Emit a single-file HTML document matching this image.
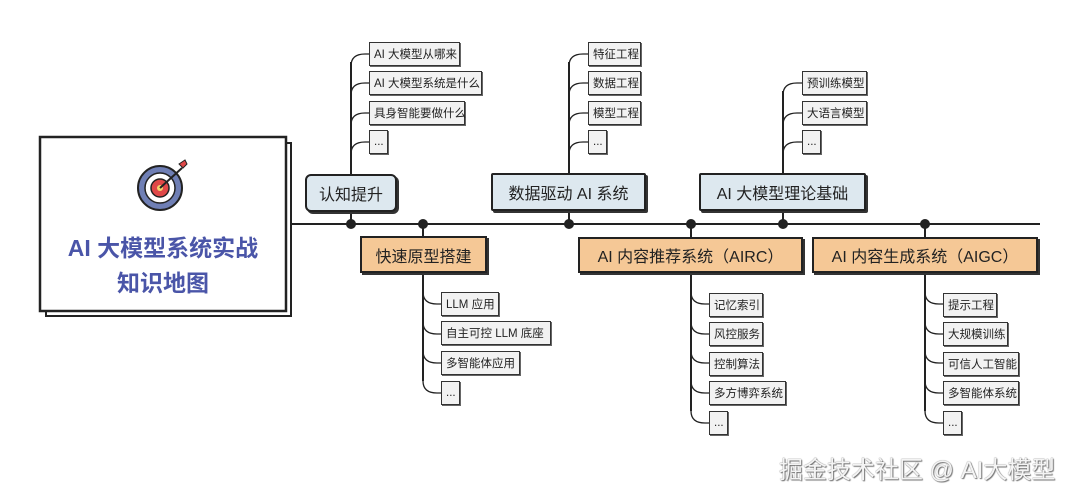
<!DOCTYPE html>
<html><head><meta charset="utf-8"><style>
body{margin:0;width:1080px;height:496px;background:#fff;position:relative;overflow:hidden;font-family:"Liberation Sans","Noto Sans CJK SC",sans-serif}
.b{position:absolute;box-sizing:border-box;border:1.5px solid #333;background:#f2f2f2;font-size:11.5px;color:#222;display:flex;align-items:center;padding-left:4px;height:24px;box-shadow:1px 1px 0 #666;white-space:nowrap}
.t{position:absolute;box-sizing:border-box;border:2px solid #222;display:flex;align-items:center;justify-content:center;font-size:16px;color:#222;box-shadow:2px 2px 0 #333}
.blue{background:#dde8ef;border-radius:6px}
.or{background:#f5c896}
</style></head><body>
<svg width="1080" height="496" style="position:absolute;left:0;top:0">
<g stroke="#222" stroke-width="2" fill="none">
<line x1="287" y1="224" x2="1040" y2="224"/>
<path d="M351 224V62"/><path d="M351 66q0-12 14-12h4M351 95q0-12 14-12h4M351 125q0-12 14-12h4M351 154q0-12 14-12h4" stroke-width="1.3"/>
<path d="M569 224V62"/><path d="M569 66q0-12 14-12h5M569 95q0-12 14-12h5M569 125q0-12 14-12h5M569 154q0-12 14-12h5" stroke-width="1.3"/>
<path d="M783 224V91"/><path d="M783 95q0-12 14-12h5M783 125q0-12 14-12h5M783 154q0-12 14-12h5" stroke-width="1.3"/>
<path d="M423 224V381"/><path d="M423 292q0 12 14 12h4M423 322q0 12 14 12h4M423 351q0 12 14 12h4M423 381q0 12 14 12h4" stroke-width="1.3"/>
<path d="M691 224V411"/><path d="M691 292q0 12 14 12h4M691 322q0 12 14 12h4M691 351q0 12 14 12h4M691 381q0 12 14 12h4M691 411q0 12 14 12h4" stroke-width="1.3"/>
<path d="M925 224V411"/><path d="M925 292q0 12 14 12h4M925 322q0 12 14 12h4M925 351q0 12 14 12h4M925 381q0 12 14 12h4M925 411q0 12 14 12h4" stroke-width="1.3"/>
</g>
<g fill="#222"><circle cx="351" cy="224" r="5"/><circle cx="423" cy="224" r="5"/><circle cx="569" cy="224" r="5"/><circle cx="691" cy="224" r="5"/><circle cx="783" cy="224" r="5"/><circle cx="925" cy="224" r="5"/></g>
<rect x="46" y="143" width="245" height="173" fill="#fff" stroke="#222" stroke-width="2"/>
<rect x="40" y="137" width="246" height="174" fill="#fff" stroke="#222" stroke-width="2.5"/>
<g transform="translate(160,188)">
<circle r="22" fill="#6f7fb5" stroke="#222" stroke-width="2"/><circle r="15" fill="#fff" stroke="#222" stroke-width="1.5"/><circle r="9" fill="#e04848" stroke="#222" stroke-width="1.5"/><circle r="3" fill="#f5d76e"/>
<line x1="0" y1="0" x2="22" y2="-20" stroke="#222" stroke-width="2"/><path d="M19-24l6-4 2 4-4 4z" fill="#e04848" stroke="#222"/>
</g>
</svg>
<div style="position:absolute;left:40px;top:231px;width:246px;text-align:center;color:#4a55a8;font-size:23px;font-weight:bold;line-height:35px">AI 大模型系统实战<br>知识地图</div>

<div class="t blue" style="left:305px;top:174px;width:92px;height:38px">认知提升</div>
<div class="t blue" style="left:491px;top:173px;width:155px;height:38px;border-radius:2px">数据驱动 AI 系统</div>
<div class="t blue" style="left:699px;top:173px;width:167px;height:38px;border-radius:2px">AI 大模型理论基础</div>
<div class="t or" style="left:360px;top:236px;width:127px;height:37px">快速原型搭建</div>
<div class="t or" style="left:578px;top:237px;width:225px;height:36px">AI 内容推荐系统（AIRC）</div>
<div class="t or" style="left:812px;top:237px;width:226px;height:36px">AI 内容生成系统（AIGC）</div>

<div class="b" style="left:369px;top:42px;width:91px">AI 大模型从哪来</div>
<div class="b" style="left:369px;top:71px;width:113px">AI 大模型系统是什么</div>
<div class="b" style="left:369px;top:101px;width:96px">具身智能要做什么</div>
<div class="b" style="left:369px;top:130px;width:19px">...</div>
<div class="b" style="left:588px;top:42px;width:53px">特征工程</div>
<div class="b" style="left:588px;top:71px;width:53px">数据工程</div>
<div class="b" style="left:588px;top:101px;width:53px">模型工程</div>
<div class="b" style="left:588px;top:130px;width:19px">...</div>
<div class="b" style="left:802px;top:71px;width:65px">预训练模型</div>
<div class="b" style="left:802px;top:101px;width:65px">大语言模型</div>
<div class="b" style="left:802px;top:130px;width:19px">...</div>
<div class="b" style="left:441px;top:292px;width:58px">LLM 应用</div>
<div class="b" style="left:441px;top:321px;width:110px">自主可控 LLM 底座</div>
<div class="b" style="left:441px;top:351px;width:79px">多智能体应用</div>
<div class="b" style="left:441px;top:381px;width:19px">...</div>
<div class="b" style="left:709px;top:293px;width:54px">记忆索引</div>
<div class="b" style="left:709px;top:322px;width:54px">风控服务</div>
<div class="b" style="left:709px;top:352px;width:54px">控制算法</div>
<div class="b" style="left:709px;top:381px;width:77px">多方博弈系统</div>
<div class="b" style="left:709px;top:411px;width:19px">...</div>
<div class="b" style="left:943px;top:293px;width:54px">提示工程</div>
<div class="b" style="left:943px;top:322px;width:65px">大规模训练</div>
<div class="b" style="left:943px;top:352px;width:76px">可信人工智能</div>
<div class="b" style="left:943px;top:381px;width:76px">多智能体系统</div>
<div class="b" style="left:943px;top:411px;width:19px">...</div>

<div style="position:absolute;left:779px;top:450px;font-size:24px;color:#f4f4f4;text-shadow:0 0 1px #555,1px 1px 1px #777;white-space:nowrap">掘金技术社区 @ AI大模型</div>
</body></html>
